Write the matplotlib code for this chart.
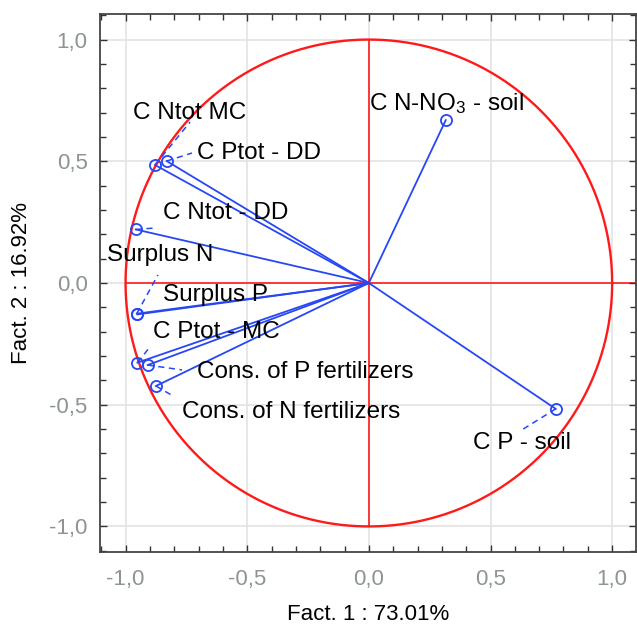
import numpy as np
import matplotlib
matplotlib.use("Agg")
import matplotlib.pyplot as plt
from matplotlib.ticker import MultipleLocator, FuncFormatter

plt.rcParams['font.family'] = ['Liberation Sans', 'DejaVu Sans']
plt.rcParams['mathtext.fontset'] = 'custom'
plt.rcParams['mathtext.rm'] = 'Liberation Sans'
plt.rcParams['mathtext.it'] = 'Liberation Sans'

# variable loadings on the first two factors
variables = ['C N-NO$_3$ - soil', 'C P - soil', 'C Ntot MC', 'C Ptot - DD',
             'C Ntot - DD', 'Surplus N', 'Surplus P', 'C Ptot - MC',
             'Cons. of P fertilizers', 'Cons. of N fertilizers']
fact1 = [0.316, 0.768, -0.879, -0.831, -0.958, -0.954, -0.951, -0.951, -0.909, -0.875]
fact2 = [0.669, -0.517, 0.485, 0.501, 0.220, -0.126, -0.129, -0.327, -0.337, -0.423]

# where each label sits, and where its dashed leader ends (None = no leader)
label_xy = [(0.0, 0.739), (0.427, -0.657), (-0.969, 0.698), (-0.706, 0.534),
            (-0.847, 0.287), (-1.076, 0.115), (-0.846, -0.049), (-0.887, -0.201),
            (-0.706, -0.366), (-0.768, -0.530)]
leader_end = [None, (0.628, -0.604), (-0.735, 0.661), (-0.727, 0.534),
              (-0.879, 0.226), (-0.867, 0.033), None, (-0.90, -0.263),
              (-0.768, -0.357), (-0.805, -0.464)]

blue = '#2747f5'
red = '#ff1a1a'

fig = plt.figure(figsize=(6.37, 6.24), dpi=100)
ax = fig.add_axes([100 / 637, 72 / 624, 536 / 637, 538 / 624])

for v in [-1.0, -0.5, 0.0, 0.5, 1.0]:
    ax.axvline(v, color='#e3e3e3', lw=1.2, zorder=0)
    ax.axhline(v, color='#e3e3e3', lw=1.2, zorder=0)

t = np.linspace(0, 2 * np.pi, 400)
ax.plot(np.cos(t), np.sin(t), color=red, lw=1.7, zorder=1)
ax.plot([-1, 1.1], [0, 0], color=red, lw=1.2, zorder=1)
ax.plot([0, 0], [-1, 1], color=red, lw=1.2, zorder=1)

for i, name in enumerate(variables):
    x, y = fact1[i], fact2[i]
    ax.plot([0, x], [0, y], color=blue, lw=1.3, zorder=3)
    ax.plot(x, y, 'o', mfc='none', mec=blue, ms=8, mew=1.3, zorder=4)
    if leader_end[i] is not None:
        ex, ey = leader_end[i]
        ax.plot([x, ex], [y, ey], color=blue, lw=1.1, ls=(0, (4, 3)), zorder=3)
    tx, ty = label_xy[i]
    ax.text(tx, ty, name, fontsize=17.5, color='black', ha='left', va='center', zorder=5)

ax.set_xlim(-1.105, 1.098)
ax.set_ylim(-1.105, 1.105)
ax.xaxis.set_major_locator(MultipleLocator(0.5))
ax.yaxis.set_major_locator(MultipleLocator(0.5))
ax.xaxis.set_minor_locator(MultipleLocator(0.1))
ax.yaxis.set_minor_locator(MultipleLocator(0.1))
fmt = FuncFormatter(lambda v, p: ('%.1f' % v).replace('.', ',').replace('-0,0', '0,0'))
ax.xaxis.set_major_formatter(fmt)
ax.yaxis.set_major_formatter(fmt)
ax.tick_params(which='both', direction='in', top=True, right=True,
               color='#333333', width=1.0)
ax.tick_params(which='major', length=5, labelsize=16, labelcolor='#8c9494', pad=9)
ax.tick_params(which='minor', length=4)
ax.tick_params(axis='x', which='major', pad=12)
for s in ax.spines.values():
    s.set_color('#444444')
    s.set_linewidth(1.3)

ax.set_xlabel('Fact. 1 : 73.01%', fontsize=16, labelpad=10)
ax.set_ylabel('Fact. 2 : 16.92%', fontsize=16, labelpad=12)

fig.savefig('out.png', dpi=100)
